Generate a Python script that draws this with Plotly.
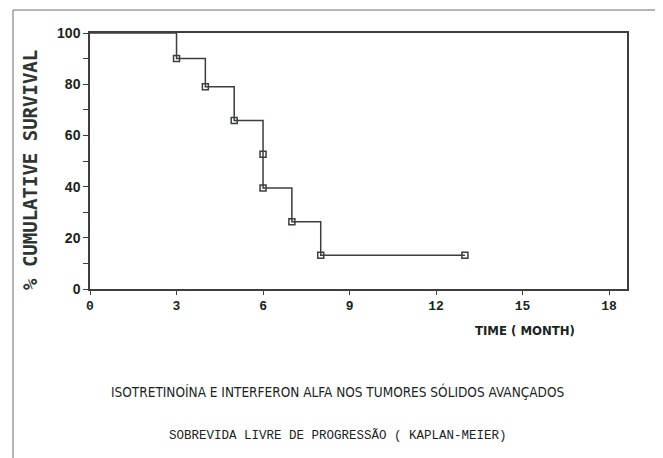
import plotly.graph_objects as go

# Data
time_months = [0, 3, 4, 5, 6, 6, 7, 8, 13]
survival_pct = [100, 90.0, 79.0, 65.8, 52.6, 39.5, 26.3, 13.2, 13.2]
x_ticks = [0, 3, 6, 9, 12, 15, 18]
y_ticks = [0, 20, 40, 60, 80, 100]

title_text = "ISOTRETINOÍNA E INTERFERON ALFA NOS TUMORES SÓLIDOS AVANÇADOS"
subtitle_text = "SOBREVIDA LIVRE DE PROGRESSÃO ( KAPLAN-MEIER)"
x_title = "TIME ( MONTH)"
y_title = "% CUMULATIVE SURVIVAL"

OFF = 8  # page body margin in the browser
W, H = 663 - OFF, 458 - OFF
L, R, T, B = 90 - OFF, 627 - OFF, 33 - OFF, 289 - OFF
pw, ph = R - L, B - T

def px(x):
    return (x - OFF - L) / pw

def py(y):
    return (B - (y - OFF)) / ph

ink = "#1b241e"
line_col = "#3a3f3c"

fig = go.Figure()
fig.add_trace(go.Scatter(
    x=time_months, y=survival_pct, mode="lines", line_shape="hv",
    line=dict(color=line_col, width=1.5), hoverinfo="skip", showlegend=False))
fig.add_trace(go.Scatter(
    x=time_months[1:], y=survival_pct[1:], mode="markers",
    marker=dict(symbol="square-open", size=6, color=line_col,
                line=dict(width=1.5, color=line_col)),
    showlegend=False))

fig.update_layout(
    width=W, height=H,
    margin=dict(l=L, r=W - R, t=T, b=H - B),
    paper_bgcolor="white", plot_bgcolor="white",
    xaxis=dict(range=[0, 18.62], tickvals=x_ticks, ticks="outside", ticklen=4,
               tickcolor=line_col, showline=True, linecolor=line_col, linewidth=1.5,
               mirror=True, showgrid=False, zeroline=False,
               tickfont=dict(family="Liberation Mono", size=13, color=ink, weight="bold")),
    yaxis=dict(range=[0, 100], tickvals=y_ticks, ticks="outside", ticklen=5,
               tickcolor=line_col, showline=True, linecolor=line_col, linewidth=1.5,
               mirror=True, showgrid=False, zeroline=False,
               minor=dict(dtick=10, ticks="outside", ticklen=5, tickcolor=line_col),
               tickfont=dict(family="Liberation Sans", size=14, color=ink, weight="bold")),
)

fig.add_annotation(x=px(30), y=py(170), xref="paper", yref="paper",
                   xanchor="center", yanchor="middle",
                   text=y_title, textangle=-90, showarrow=False,
                   font=dict(family="DejaVu Sans Mono", size=19, color="#2f3531", weight="bold"))
fig.add_annotation(x=px(525), y=py(330), xref="paper", yref="paper",
                   xanchor="center", yanchor="middle",
                   text=x_title, showarrow=False,
                   font=dict(family="DejaVu Sans Condensed, Liberation Mono", size=13,
                             color=ink, weight="bold"))
fig.add_annotation(x=px(337), y=py(391), xref="paper", yref="paper",
                   xanchor="center", yanchor="middle",
                   text=title_text, showarrow=False,
                   font=dict(family="DejaVu Sans Condensed, Liberation Mono", size=13.5,
                             color=ink))
fig.add_annotation(x=px(338), y=py(435), xref="paper", yref="paper",
                   xanchor="center", yanchor="middle",
                   text=subtitle_text, showarrow=False,
                   font=dict(family="Liberation Mono", size=12.5, color=ink))

# outer scan frame (top and left edges)
frame_col = "#9a9e9b"
fig.add_shape(type="line", xref="paper", yref="paper",
              x0=px(13), y0=py(10), x1=px(670), y1=py(10),
              line=dict(color=frame_col, width=1.5))
fig.add_shape(type="line", xref="paper", yref="paper",
              x0=px(13), y0=py(10), x1=px(13), y1=py(470),
              line=dict(color=frame_col, width=1.5))

fig.write_html("out.html")
